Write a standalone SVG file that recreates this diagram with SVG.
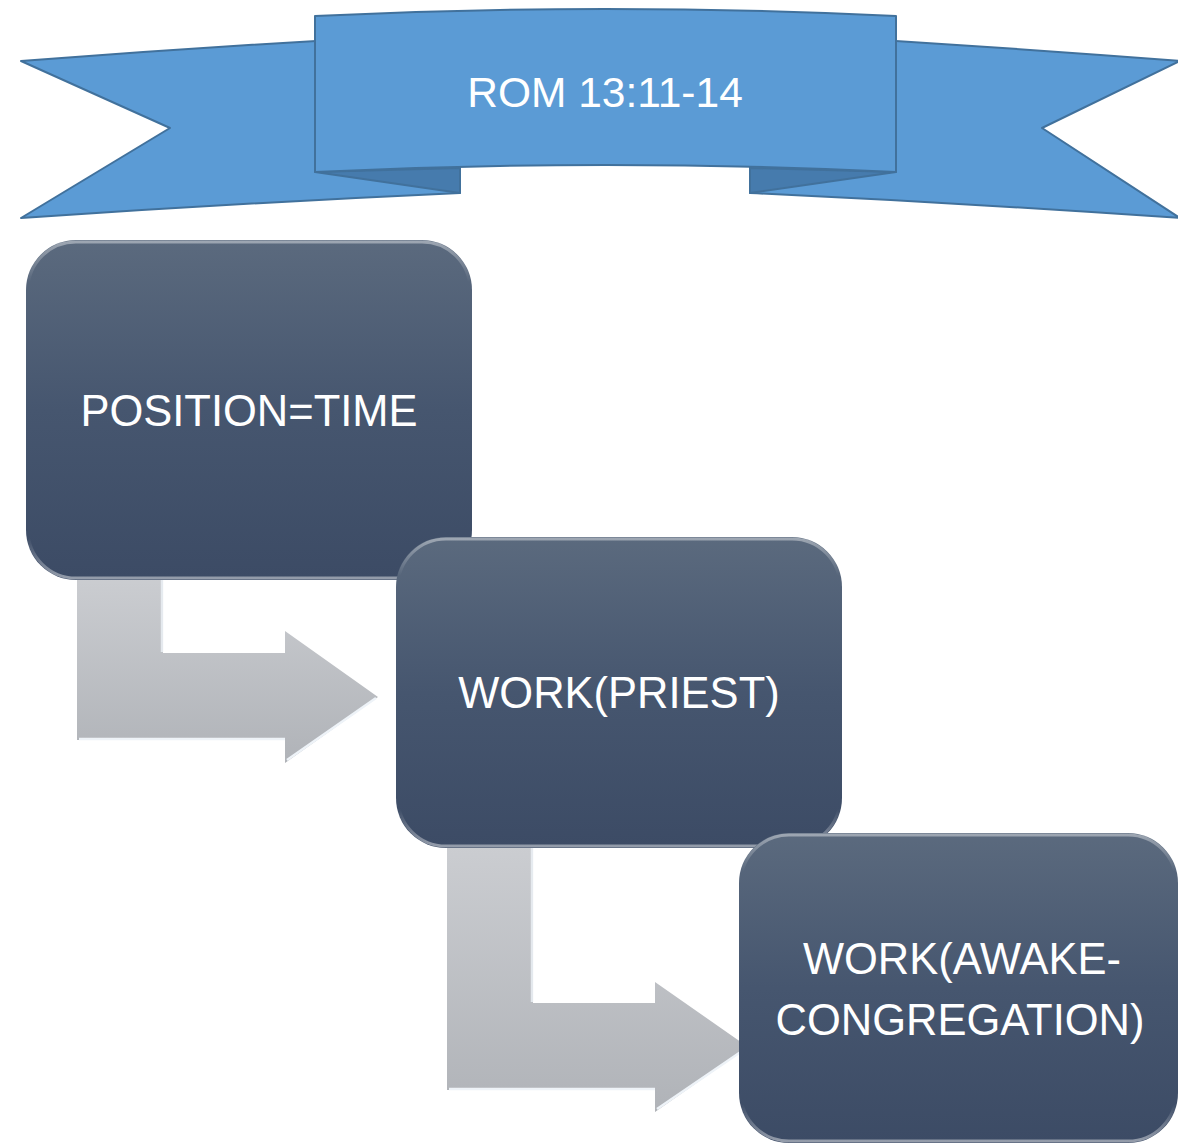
<svg xmlns="http://www.w3.org/2000/svg" width="1178" height="1143" viewBox="0 0 1178 1143">
<style>
.ban{fill:#5B9BD5;stroke:#41719C;stroke-width:2;stroke-linejoin:round}
.fold{fill:#467BAD;stroke:#41719C;stroke-width:2;stroke-linejoin:round}
.box{fill:url(#boxg)}
.hl{fill:none;stroke:url(#hlg);stroke-width:3}
.arr{fill:url(#arrg)}
.ahl{fill:none;stroke:#EEF3F8;stroke-width:2.5;stroke-linejoin:miter}
.t{font-family:"Liberation Sans",Arial,sans-serif;fill:#FFFFFF;text-anchor:middle}
</style>
<defs>
<linearGradient id="boxg" x1="0" y1="0" x2="0" y2="1">
<stop offset="0" stop-color="#5B6A7E"/>
<stop offset="0.5" stop-color="#46566F"/>
<stop offset="1" stop-color="#3C4B65"/>
</linearGradient>
<linearGradient id="hlg" x1="0" y1="0" x2="0" y2="1">
<stop offset="0" stop-color="#FFFFFF" stop-opacity="0.4"/>
<stop offset="0.12" stop-color="#FFFFFF" stop-opacity="0"/>
<stop offset="0.88" stop-color="#FFFFFF" stop-opacity="0"/>
<stop offset="1" stop-color="#FFFFFF" stop-opacity="0.45"/>
</linearGradient>
<linearGradient id="arrg" x1="0" y1="0" x2="0" y2="1">
<stop offset="0" stop-color="#CBCDD1"/>
<stop offset="1" stop-color="#B0B3B8"/>
</linearGradient>
</defs>

<g id="banner">
<path class="ban" d="M21,61 Q240,44 460,33 L460,193 Q240,203 21,218 L170,128 Z"/>
<path class="fold" d="M315,172 L460,168 L460,193 Z"/>
<path class="ban" d="M1180,61 Q965,44 750,33 L750,193 Q965,203 1180,218 L1042,128 Z"/>
<path class="fold" d="M896,172 L750,168 L750,193 Z"/>
<path class="ban" d="M315,16 Q605,2 896,16 L896,172 Q605,158 315,172 Z"/>
<text class="t" x="605" y="107" font-size="42.5">ROM 13:11-14</text>
</g>

<g id="connectors">
<g id="arrow1">
<path class="arr" d="M77,575 L163,575 L163,653 L285,653 L285,631 L378,697 L285,763 L285,740 L77,740 Z"/>
<path class="ahl" d="M162,578 L162,652" stroke-opacity="0.8"/>
<path class="ahl" d="M79,739 L285,739 M287,760 L376,698"/>
</g>
<g id="arrow2">
<path class="arr" d="M447,845 L533,845 L533,1003 L655,1003 L655,982 L748,1047 L655,1112 L655,1090 L447,1090 Z"/>
<path class="ahl" d="M532,848 L532,1002" stroke-opacity="0.8"/>
<path class="ahl" d="M449,1089 L655,1089 M657,1109 L745,1049"/>
</g>
</g>

<g id="node1">
<rect class="box" x="26" y="240" width="446" height="340" rx="50"/>
<rect class="hl" x="28" y="242" width="442" height="336" rx="48"/>
<text class="t" x="249" y="426" font-size="43.5">POSITION=TIME</text>
</g>

<g id="node2">
<rect class="box" x="396" y="537" width="446" height="311" rx="50"/>
<rect class="hl" x="398" y="539" width="442" height="307" rx="48"/>
<text class="t" x="619" y="708" font-size="43.5">WORK(PRIEST)</text>
</g>

<g id="node3">
<rect class="box" x="739" y="833" width="439" height="310" rx="50"/>
<rect class="hl" x="741" y="835" width="435" height="306" rx="48"/>
<text class="t" x="962" y="974" font-size="43.5">WORK(AWAKE-</text>
<text class="t" x="960" y="1035" font-size="43.5">CONGREGATION)</text>
</g>
</svg>
